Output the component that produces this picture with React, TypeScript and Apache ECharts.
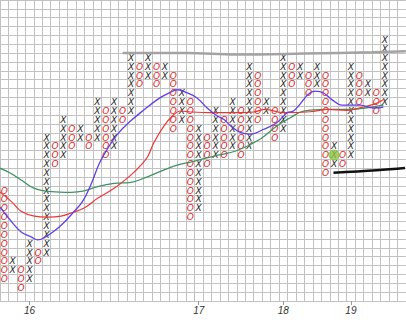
import React, { useEffect, useRef } from "react";
import * as echarts from "echarts";

// Point & figure columns (column index = position), rows are box indexes
const colTypes = ["O","X","O","X","O","X","O","X","O","X","O","X","O","X","O","X","O","X","O","X","O","X","O","X","O","X","O","X","O","X","O","X","O","X","O","X","O","X","O","X","O","X","O","X","O","X"];
const colLow = [2,3,1,2,4,5,15,16,17,18,17,18,16,17,20,21,24,25,24,25,19,20,9,10,15,16,16,17,16,17,20,21,18,19,24,25,23,24,14,15,15,16,22,23,21,22];
const colHigh = [12,4,3,6,5,18,17,20,19,19,18,22,21,22,21,27,26,27,26,26,25,23,22,19,18,21,20,22,21,26,25,22,21,27,26,26,25,26,25,17,16,26,25,24,23,29];

// Year labels under the columns
const yearLabels = ["16", "17", "18", "19"];
const yearCols = [3, 23, 33, 41];

// Moving averages [column position, box position]
const purpleMA = [[0,10.6],[1.32,9.02],[2.5,7.8],[3.68,7.24],[4.47,6.9],[5.25,7.16],[6.42,7.9],[7.6,8.9],[8.78,10.13],[9.77,11.25],[10.75,13.14],[11.73,15.5],[12.72,17.2],[13.9,18.85],[15.47,20.35],[17.04,21.6],[18.6,22.75],[20.0,23.5],[21.0,23.86],[22.16,23.5],[23.3,22.94],[24.5,21.8],[25.7,20.9],[26.5,20.5],[27.26,19.8],[28.05,19.23],[28.44,19.04],[29.6,18.85],[31.2,19.4],[32.77,20.16],[33.95,21.27],[34.7,21.46],[37.3,23.7],[38.26,23.5],[39.25,22.75],[40.43,22.13],[42.6,22.13],[44.16,21.8],[45.34,21.9]];
const redMA = [[0,12.3],[1.32,11.25],[2.5,10.13],[4.07,9.58],[5.65,9.47],[7.21,9.58],[8.4,9.94],[9.96,10.5],[11.54,11.6],[13.5,12.73],[15.47,14.22],[16.65,15.33],[17.44,16.26],[18.22,17.93],[19.4,19.79],[20.39,20.9],[21.36,21.46],[22.54,21.35],[25.29,21.27],[28.05,21.27],[30.0,21.35],[31.4,21.64],[33.55,21.27],[36.7,21.38],[38.67,21.64],[41.0,21.53],[42.59,21.83],[44.36,22.27],[45.4,22.75]];
const greenMA = [[0,15.0],[1.32,14.4],[2.5,13.66],[4.07,12.73],[6.04,12.36],[8.4,12.28],[9.96,12.44],[11.54,12.92],[13.5,13.29],[15.47,13.4],[17.44,14.03],[19.8,14.96],[21.37,15.45],[22.54,15.7],[25.69,16.45],[28.05,17.0],[30.8,18.3],[32.77,19.8],[34.34,20.7],[35.9,21.46],[38.67,21.64],[41.0,21.64],[43.38,21.83],[45.34,22.13]];
const resistanceLine = [[14.5,28.0],[22,28.0],[28,27.85],[36,27.95],[44,28.1],[48,28.2]];
const targetLine = [[39.44,14.5],[44.56,14.78],[47.9,15.03]];
const signalPoint = [[39.5,16.5]];

export default function App() {
  const ref = useRef<HTMLDivElement>(null);
  useEffect(() => {
    if (!ref.current) return;
    const chart = echarts.init(ref.current, null, { renderer: "svg" });
    const cells: number[][] = [];
    colTypes.forEach((t, c) => {
      for (let r = colLow[c]; r <= colHigh[c]; r++) {
        cells.push([c + 0.5, r + 0.5, t === "X" ? 1 : 0]);
      }
    });
    const lineSeries = (data: number[][], color: string, width: number, z: number) => ({
      type: "line",
      data,
      smooth: 0.4,
      showSymbol: false,
      symbol: "none",
      lineStyle: { color, width },
      z,
      silent: true,
    });
    chart.setOption({
      animation: false,
      backgroundColor: "#ffffff",
      grid: { left: -1.18, top: -4.32, width: 407.04, height: 305.32, containLabel: false },
      xAxis: [
        {
          type: "value",
          min: 0,
          max: 48,
          interval: 1,
          axisLine: { show: false },
          axisTick: { show: false },
          axisLabel: { show: false },
          splitLine: { show: true, lineStyle: { color: "#c2c2c2", width: 1 } },
        },
        {
          type: "value",
          min: 0,
          max: 48,
          position: "bottom",
          axisLine: { show: false },
          splitLine: { show: false },
          axisTick: {
            show: true,
            length: 4,
            customValues: yearCols.map((c) => c + 0.5),
            lineStyle: { color: "#999999" },
          },
          axisLabel: {
            show: true,
            margin: 4,
            customValues: yearCols.map((c) => c + 0.5),
            formatter: (v: number) => {
              const i = yearCols.indexOf(Math.round(v - 0.5));
              return i >= 0 ? yearLabels[i] : "";
            },
            color: "#333333",
            fontStyle: "italic",
            fontSize: 10,
            fontFamily: "Liberation Sans",
          },
        },
      ],
      yAxis: {
        type: "value",
        min: 0,
        max: 34,
        interval: 1,
        axisLine: { show: false },
        axisTick: { show: false },
        axisLabel: { show: false },
        splitLine: { show: true, lineStyle: { color: "#c2c2c2", width: 1 } },
      },
      series: [
        {
          type: "custom",
          data: cells,
          z: 2,
          silent: true,
          renderItem: (params: any, api: any) => {
            const p = api.coord([api.value(0), api.value(1)]);
            const isX = api.value(2) === 1;
            return {
              type: "text",
              x: p[0],
              y: p[1] + 0.3,
              style: {
                text: isX ? "X" : "O",
                fill: isX ? "#1c1c1c" : "#dc1e1e",
                fontSize: 9,
                lineHeight: 7,
                fontStyle: "italic",
                fontFamily: "DejaVu Sans",
                align: "center",
                verticalAlign: "middle",
              },
            };
          },
        },
        lineSeries(resistanceLine, "#a3a3a3", 2.5, 3),
        lineSeries(greenMA, "#3f9262", 1.3, 4),
        lineSeries(redMA, "#f03434", 1.2, 5),
        lineSeries(purpleMA, "#5f3de8", 1.3, 6),
        lineSeries(targetLine, "#111111", 2.5, 7),
        {
          type: "scatter",
          data: signalPoint,
          symbol: "circle",
          symbolSize: 11,
          itemStyle: { color: "#8cc63f" },
          z: 8,
          silent: true,
        },
      ],
    });
    return () => chart.dispose();
  }, []);
  return (
    <div
      ref={ref}
      style={{ position: "fixed", left: 0, top: 0, width: 406, height: 327 }}
    />
  );
}
